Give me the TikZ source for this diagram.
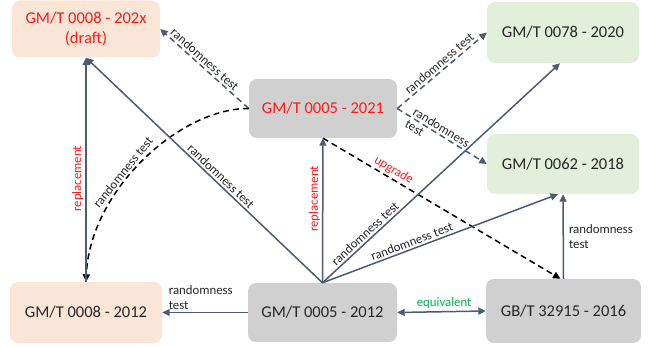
\documentclass[tikz,border=0pt]{standalone}
\usepackage{fontspec}
\setmainfont{Carlito}
\usetikzlibrary{arrows.meta}
\definecolor{slate}{HTML}{4B5B72}
\definecolor{boxorange}{HTML}{FBE5D6}
\definecolor{boxgray}{HTML}{D0D0D0}
\definecolor{boxgreen}{HTML}{E2EFDA}
\definecolor{redtxt}{HTML}{FF1A1A}
\definecolor{greentxt}{HTML}{00B050}
\definecolor{txt}{HTML}{262626}
\begin{document}
\begin{tikzpicture}[x=1pt,y=-1pt,
  box/.style={rounded corners=8pt, align=center, inner sep=0pt, text=txt,
    font=\fontsize{16.5}{20}\selectfont},
  conn/.style={draw=slate, line width=1.5pt, -{Triangle[length=7.5pt,width=7pt]}},
  conndash/.style={conn, dash pattern=on 6pt off 4pt},
  blkdash/.style={draw=black, line width=1.5pt, dash pattern=on 6pt off 4pt, -{Triangle[length=7.5pt,width=7pt]}},
  both/.style={draw=slate, line width=1.5pt, {Triangle[length=7.5pt,width=7pt]}-{Triangle[length=7.5pt,width=7pt]}},
  lbl/.style={font=\fontsize{12.8}{15}\selectfont, inner sep=2pt, text=txt},
  redlbl/.style={lbl, text=redtxt},
]
\useasboundingbox (0,0) rectangle (651,347);

\node[box, fill=boxorange, minimum width=148pt, minimum height=57pt, text=redtxt] (A) at (86,29) {GM/T 0008 - 202x\\(draft)};
\node[box, fill=boxgray, minimum width=148pt, minimum height=59pt, text=redtxt] (B) at (323,108.5) {GM/T 0005 - 2021};
\node[box, fill=boxgreen, minimum width=152pt, minimum height=61pt] (C) at (563,32.5) {GM/T 0078 - 2020};
\node[box, fill=boxgreen, minimum width=152pt, minimum height=60pt] (D) at (563,164) {GM/T 0062 - 2018};
\node[box, fill=boxorange, minimum width=152pt, minimum height=61pt] (E) at (86,312.5) {GM/T 0008 - 2012};
\node[box, fill=boxgray, minimum width=149pt, minimum height=59pt] (F) at (322.5,312.5) {GM/T 0005 - 2012};
\node[box, fill=boxgray, minimum width=155pt, minimum height=64pt] (G) at (563.5,311) {GB/T 32915 - 2016};

% dashed from B
\draw[conndash] (B.west) -- node[lbl, pos=0.55, sloped, above] {randomness test} (A.east);
\draw[conndash] (B.east) -- node[lbl, pos=0.52, sloped, above] {randomness test} (C.west);
\draw[conndash] (B.east) -- node[lbl, pos=0.45, sloped, align=left, inner sep=0pt] {randomness\\test} (D.west);
\draw[blkdash] (B.south) -- node[redlbl, pos=0.28, sloped, above] {upgrade} ([xshift=-3pt]G.north);
\draw[blkdash] (B.west) .. controls (180,108) and (90,190) .. node[lbl, pos=0.58, sloped, above] {randomness test} (E.north);

% solid
\draw[conn] (E.north) -- node[redlbl, pos=0.46, sloped, above] {replacement} (A.south);
\draw[conn] (F.north) -- node[lbl, pos=0.45, sloped, above] {randomness test} (A.south);
\draw[conn] (F.north) -- node[redlbl, pos=0.58, sloped, above] {replacement} (B.south);
\draw[conn] (F.north) -- node[lbl, pos=0.2, sloped, above] {randomness test} ([xshift=-3pt]C.south);
\draw[conn] (F.north) -- node[lbl, pos=0.39, sloped, above] {randomness test} ([xshift=-5pt]D.south);
\draw[conn] (G.north) -- node[lbl, pos=0.5, right, align=left, inner sep=5pt] {randomness\\test} (D.south);
\draw[conn] (F.west) -- node[lbl, pos=0.55, above, align=left] {randomness\\test} (E.east);
\draw[both] (F.east) -- node[lbl, pos=0.53, above, text=greentxt] {equivalent} (G.west);
\end{tikzpicture}
\end{document}
